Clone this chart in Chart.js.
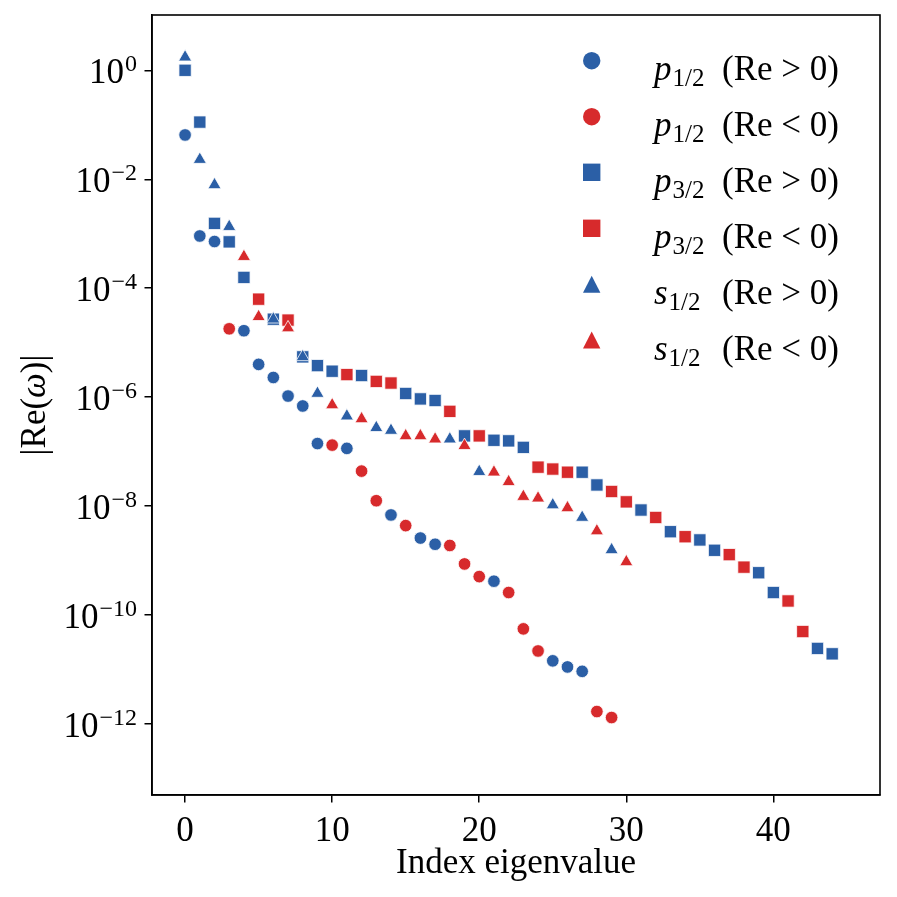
<!DOCTYPE html>
<html>
<head>
<meta charset="utf-8">
<script src="https://cdn.jsdelivr.net/npm/chart.js@4.4.1/dist/chart.umd.min.js"></script>
<style>
  html, body { margin: 0; padding: 0; background: #fff; }
  canvas { display: block; }
</style>
</head>
<body>
<canvas id="eigChart" width="897" height="897"></canvas>
<script>
// eigenvalue index -> |Re(omega)|
const p12PosIdx = [0, 1, 2, 4, 5, 6, 7, 8, 9, 11, 14, 16, 17, 21, 25, 26, 27];
const p12PosVal = [6.5e-2, 9.1e-4, 7.2e-4, 1.66e-5, 4.0e-6, 2.3e-6, 1.05e-6, 6.9e-7, 1.41e-7, 1.15e-7,
                   6.9e-9, 2.6e-9, 2.0e-9, 4.2e-10, 1.45e-11, 1.12e-11, 9.3e-12];

const p12NegIdx = [3, 10, 12, 13, 15, 18, 19, 20, 22, 23, 24, 28, 29];
const p12NegVal = [1.8e-5, 1.32e-7, 4.4e-8, 1.26e-8, 4.4e-9, 1.9e-9, 8.7e-10, 5.1e-10, 2.6e-10,
                   5.6e-11, 2.2e-11, 1.7e-12, 1.32e-12];

const p32PosIdx = [0, 1, 2, 3, 4, 6, 8, 9, 10, 12, 15, 16, 17, 19, 21, 22, 23, 27, 28, 31, 33, 35, 36, 39, 40, 43, 44];
const p32PosVal = [1.0, 0.112, 1.55e-3, 7.1e-4, 1.58e-4, 2.7e-5, 5.5e-6, 3.8e-6, 3.0e-6, 2.5e-6,
                   1.17e-6, 9.3e-7, 8.7e-7, 1.95e-7, 1.62e-7, 1.58e-7, 1.2e-7, 4.2e-8, 2.45e-8,
                   8.5e-9, 3.4e-9, 2.4e-9, 1.55e-9, 6.0e-10, 2.6e-10, 2.45e-11, 1.95e-11];

const p32NegIdx = [5, 7, 11, 13, 14, 18, 20, 24, 25, 26, 29, 30, 32, 34, 37, 38, 41, 42];
const p32NegVal = [6.3e-5, 2.6e-5, 2.6e-6, 1.95e-6, 1.82e-6, 5.5e-7, 1.95e-7, 5.2e-8, 4.8e-8, 4.2e-8,
                   1.86e-8, 1.2e-8, 6.2e-9, 2.75e-9, 1.29e-9, 7.6e-10, 1.82e-10, 5.0e-11];

const s12PosIdx = [0, 1, 2, 3, 6, 8, 9, 11, 13, 14, 18, 20, 25, 27, 29];
const s12PosVal = [1.74, 2.3e-2, 7.9e-3, 1.35e-3, 2.7e-5, 5.5e-6, 1.17e-6, 4.5e-7, 2.75e-7, 2.45e-7,
                   1.7e-7, 4.3e-8, 1.05e-8, 6.2e-9, 1.58e-9];

const s12NegIdx = [4, 5, 7, 10, 12, 15, 16, 17, 19, 21, 22, 23, 24, 26, 28, 30];
const s12NegVal = [3.8e-4, 3.0e-5, 1.86e-5, 7.2e-7, 4.0e-7, 1.95e-7, 1.95e-7, 1.7e-7, 1.29e-7, 4.2e-8,
                   2.8e-8, 1.5e-8, 1.4e-8, 9.3e-9, 3.5e-9, 9.5e-10];

const xTickVals = [0, 10, 20, 30, 40];
const yTickExps = [0, -2, -4, -6, -8, -10, -12];

const BLUE = '#2b5fa6';
const RED = '#d72a2c';
const SERIF = '"Liberation Serif", "Times New Roman", serif';

function pts(xs, ys) {
    return xs.map((x, i) => ({ x: x, y: ys[i] }));
}

// [letter, sub, sign, colour, pointStyle, radius, points]
const series = [
    ['p', '1/2', '>', BLUE, 'circle', 6.3, pts(p12PosIdx, p12PosVal)],
    ['p', '1/2', '<', RED, 'circle', 6.3, pts(p12NegIdx, p12NegVal)],
    ['p', '3/2', '>', BLUE, 'rect', 8.7, pts(p32PosIdx, p32PosVal)],
    ['p', '3/2', '<', RED, 'rect', 8.7, pts(p32NegIdx, p32NegVal)],
    ['s', '1/2', '>', BLUE, 'triangle', 7.6, pts(s12PosIdx, s12PosVal)],
    ['s', '1/2', '<', RED, 'triangle', 7.6, pts(s12NegIdx, s12NegVal)]
];

const datasets = series.map((s, i) => ({
    label: s[0] + s[1] + ' (Re ' + s[2] + ' 0)',
    data: s[6],
    pointStyle: s[4],
    pointRadius: s[5],
    pointHoverRadius: s[5],
    backgroundColor: s[3],
    borderColor: '#ffffff',
    borderWidth: 0.8,
    order: series.length - 1 - i
}));

// frame, log tick labels, axis titles and legend
const decorPlugin = {
    id: 'decor',
    afterDraw(chart) {
        const ctx = chart.ctx;
        const area = chart.chartArea;
        const yScale = chart.scales.y;
        ctx.save();

        ctx.strokeStyle = '#000';
        ctx.lineWidth = 1.6;
        ctx.strokeRect(area.left, area.top, area.right - area.left, area.bottom - area.top);

        ctx.fillStyle = '#000';
        ctx.textBaseline = 'alphabetic';

        // y tick labels 10^n
        yTickExps.forEach(e => {
            const y = yScale.getPixelForValue(Math.pow(10, e));
            const sup = e === 0 ? '0' : '\u2212' + Math.abs(e);
            ctx.font = '24px ' + SERIF;
            ctx.textAlign = 'right';
            ctx.fillText(sup, 137, y + 1);
            const w = ctx.measureText(sup).width;
            ctx.font = '35px ' + SERIF;
            ctx.fillText('10', 137 - w - 1, y + 12.5);
        });

        // x axis title
        ctx.font = '35px ' + SERIF;
        ctx.textAlign = 'center';
        ctx.fillText('Index eigenvalue', (area.left + area.right) / 2, 873);

        // y axis title |Re(ω)|
        ctx.save();
        ctx.translate(45, (area.top + area.bottom) / 2);
        ctx.rotate(-Math.PI / 2);
        const parts = [['|Re(', 'normal'], ['\u03c9', 'italic'], [')|', 'normal']];
        let total = 0;
        parts.forEach(p => {
            ctx.font = p[1] + ' 35px ' + SERIF;
            total += ctx.measureText(p[0]).width;
        });
        let cx = -total / 2;
        ctx.textAlign = 'left';
        parts.forEach(p => {
            ctx.font = p[1] + ' 35px ' + SERIF;
            ctx.fillText(p[0], cx, 0);
            cx += ctx.measureText(p[0]).width;
        });
        ctx.restore();

        // legend
        const rowY = [60.7, 116.7, 172.3, 228.3, 284.3, 340];
        const mx = 591.7;
        series.forEach((s, i) => {
            const y = rowY[i];
            ctx.fillStyle = s[3];
            ctx.beginPath();
            if (s[4] === 'circle') {
                ctx.arc(mx, y, 8.7, 0, Math.PI * 2);
            } else if (s[4] === 'rect') {
                ctx.rect(mx - 8.7, y - 8.7, 17.4, 17.4);
            } else {
                ctx.moveTo(mx, y - 8.5);
                ctx.lineTo(mx + 8.7, y + 8.5);
                ctx.lineTo(mx - 8.7, y + 8.5);
                ctx.closePath();
            }
            ctx.fill();

            ctx.fillStyle = '#000';
            ctx.textAlign = 'left';
            const base = y + 19.5;
            ctx.font = 'italic 35px ' + SERIF;
            ctx.fillText(s[0], 654, base);
            const lw = ctx.measureText(s[0]).width;
            ctx.font = '25px ' + SERIF;
            ctx.fillText(s[1], 654 + lw + 1, base + 6);
            ctx.font = '35px ' + SERIF;
            ctx.fillText('(Re ' + s[2] + ' 0)', 722, base);
        });

        ctx.restore();
    }
};

const ctx = document.getElementById('eigChart').getContext('2d');
new Chart(ctx, {
    type: 'scatter',
    data: { datasets: datasets },
    options: {
        responsive: false,
        animation: false,
        devicePixelRatio: 1,
        layout: { padding: { top: 15, right: 17, left: 0, bottom: 0 } },
        plugins: {
            legend: { display: false },
            tooltip: { enabled: false }
        },
        scales: {
            x: {
                type: 'linear',
                min: -2.25,
                max: 47.25,
                afterBuildTicks: (scale) => {
                    scale.ticks = xTickVals.map(v => ({ value: v }));
                },
                afterFit: (scale) => { scale.height = 102; },
                ticks: {
                    color: '#000',
                    font: { family: SERIF, size: 35 },
                    padding: 8,
                    maxRotation: 0,
                    autoSkip: false
                },
                grid: { drawOnChartArea: false, drawTicks: true, tickLength: 7.5, color: '#000', lineWidth: 1.5 },
                border: { display: true, color: '#000', width: 1.6 }
            },
            y: {
                type: 'logarithmic',
                min: 5e-14,
                max: 10.35,
                afterBuildTicks: (scale) => {
                    scale.ticks = yTickExps.map(e => ({ value: Math.pow(10, e) }));
                },
                afterFit: (scale) => { scale.width = 152; },
                ticks: { display: false },
                grid: { drawOnChartArea: false, drawTicks: true, tickLength: 7.5, color: '#000', lineWidth: 1.5 },
                border: { display: true, color: '#000', width: 1.6 }
            }
        }
    },
    plugins: [decorPlugin]
});
</script>
</body>
</html>
